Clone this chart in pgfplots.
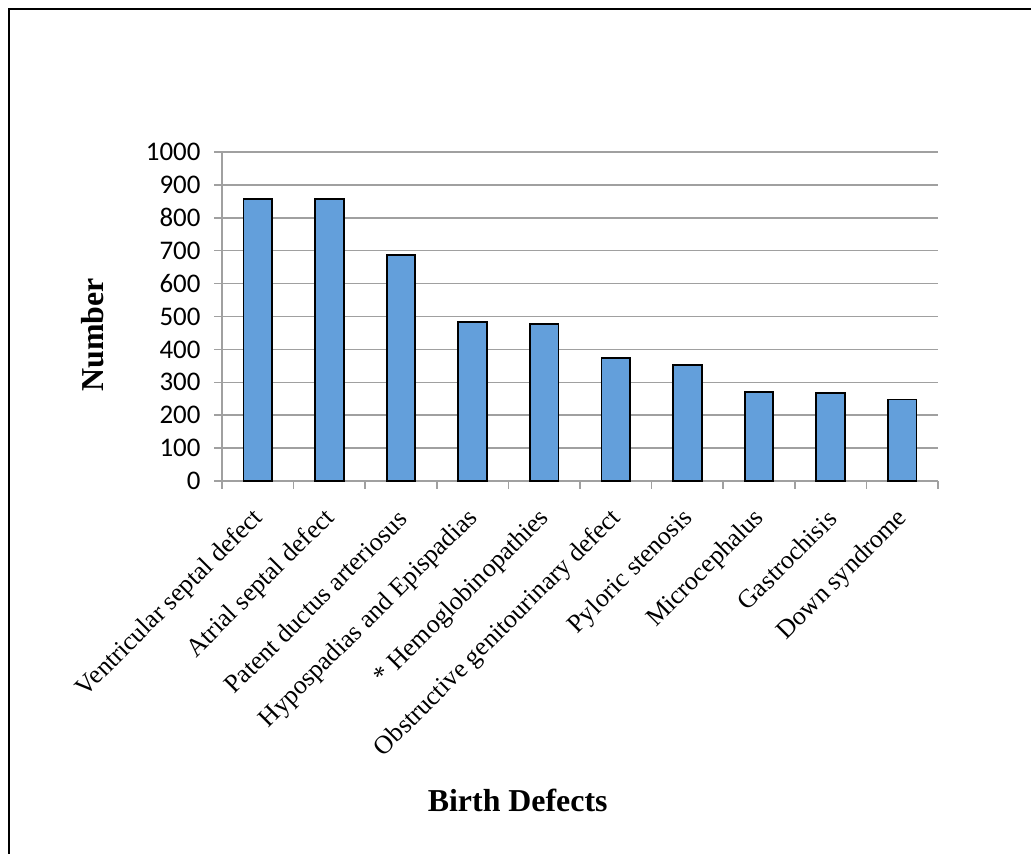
\documentclass[border=0pt]{standalone}
\usepackage{pgfplots}
\pgfplotsset{compat=1.18}
\usepackage{fontspec}
\setmainfont{Liberation Serif}
\newfontfamily\calibri{Carlito}
\definecolor{barblue}{RGB}{99,159,219}
\definecolor{gridgray}{RGB}{160,160,160}

\pgfplotstableread{
idx count
0 858
1 858
2 686
3 483
4 476
5 373
6 352
7 270
8 267
9 248
}\defects

\begin{document}
\begin{tikzpicture}[x=1bp,y=1bp]
\useasboundingbox (0,0) rectangle (1031,854);
% outer frame (left and top edges)
\draw[line width=2bp] (9.3,-5) -- (9.3,844.7) -- (1040,844.7);
\begin{axis}[
  at={(222bp,373bp)}, anchor=south west,
  scale only axis, width=716bp, height=329bp,
  xmin=-0.5, xmax=9.5, ymin=0, ymax=1000,
  ytick={0,100,...,1000},
  axis lines*=left,
  axis line style={gridgray, line width=1.5bp, -},
  ymajorgrids,
  grid style={gridgray, line width=1.5bp},
  tick align=outside,
  major tick length=8bp,
  tick style={gridgray, line width=1.5bp},
  xtick={0,...,9},
  xtick style={draw=none},
  xticklabels={Ventricular septal defect, Atrial septal defect, Patent ductus arteriosus, Hypospadias and Epispadias, * Hemoglobinopathies, Obstructive genitourinary defect, Pyloric stenosis, Microcephalus, Gastrochisis, Down syndrome},
  xticklabel style={font=\fontsize{26}{26}\selectfont, xshift=3bp, yshift=-24bp, rotate=45, anchor=east, inner sep=2bp},
  extra x ticks={-0.5,0.5,...,9.5},
  extra x tick labels={},
  extra x tick style={xtick style={draw=gridgray, line width=1.5bp}},
  yticklabel style={font=\calibri\fontsize{27}{27}\selectfont, xshift=-10bp},
  /pgf/number format/assume math mode=true,
  /pgf/number format/set thousands separator={},
  ylabel={\textbf{Number}},
  ylabel style={font=\fontsize{32}{32}\selectfont, at={(axis description cs:-0.18,0.444)}, anchor=center},
  xlabel={\textbf{Birth Defects}},
  xlabel style={font=\fontsize{32}{32}\selectfont, at={(axis description cs:0.413,-0.97)}, anchor=center},
  clip=false,
]
\addplot[ybar, bar width=0.4, fill=barblue, draw=black, line width=1.8bp] table[x=idx, y=count] {\defects};
\end{axis}
\end{tikzpicture}
\end{document}
